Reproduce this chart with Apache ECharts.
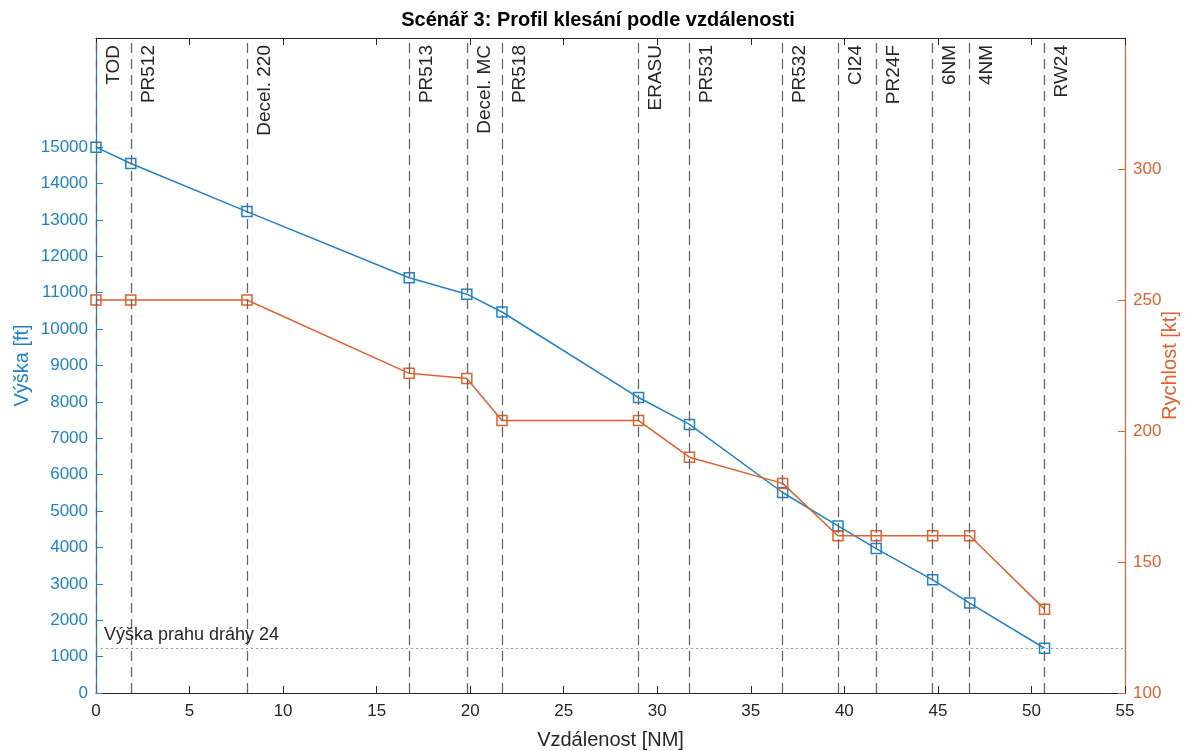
<!DOCTYPE html>
<html lang="cs">
<head>
<meta charset="utf-8">
<title>Scénář 3: Profil klesání podle vzdálenosti</title>
<script src="https://cdn.jsdelivr.net/npm/echarts@6.0.0/dist/echarts.min.js"></script>
<style>
  html, body { margin: 0; padding: 0; background: #fff; }
  #chart { width: 1196px; height: 751px; }
</style>
</head>
<body>
<div id="chart"></div>
<script>
// Data: body trati
const waypoints = ['TOD', 'PR512', 'Decel. 220', 'PR513', 'Decel. MC', 'PR518', 'ERASU',
  'PR531', 'PR532', 'CI24', 'PR24F', '6NM', '4NM', 'RW24'];
const distanceNM = [0, 1.86, 8.07, 16.74, 19.82, 21.7, 29.0, 31.72, 36.7, 39.66, 41.7, 44.72, 46.7, 50.7];
const altitudeFt = [15000, 14550, 13230, 11410, 10960, 10470, 8120, 7380, 5510, 4590, 3970, 3110, 2470, 1230];
const speedKt = [250, 250, 250, 222, 220, 204, 204, 190, 180, 160, 160, 160, 160, 132];
const thresholdFt = 1230;

// Popisky os
const altitudeTicks = [0, 1000, 2000, 3000, 4000, 5000, 6000, 7000, 8000, 9000, 10000,
  11000, 12000, 13000, 14000, 15000];
const speedTicks = [100, 150, 200, 250, 300];

// Barvy
const BLUE = '#1f82c8';
const ORANGE = '#e0602f';
const DARK = '#262626';
const FONT = '"Liberation Sans", Arial, sans-serif';

const chart = echarts.init(document.getElementById('chart'));

const zip = (xs, ys) => xs.map((x, i) => [x, ys[i]]);

// svislé čáry s názvy bodů
const waypointLines = waypoints.map((name, i) => ({
  xAxis: distanceNM[i],
  label: { formatter: name }
}));

// společné nastavení os
const xAxisBase = {
  type: 'value',
  min: 0, max: 55, interval: 5,
  axisLine: { onZero: false, lineStyle: { color: DARK, width: 1.2 } },
  axisTick: { inside: true, length: 7, lineStyle: { color: DARK } },
  splitLine: { show: false }
};

chart.setOption({
  animation: false,
  title: {
    text: 'Scénář 3: Profil klesání podle vzdálenosti',
    left: 'center',
    top: 5,
    textStyle: { fontFamily: FONT, fontSize: 20, fontWeight: 'bold', color: '#000' }
  },
  grid: { left: 96, right: 71, top: 38, bottom: 58, containLabel: false, outerBoundsMode: 'none' },
  xAxis: [
    Object.assign({}, xAxisBase, {
      name: 'Vzdálenost [NM]',
      nameLocation: 'middle',
      nameGap: 37,
      nameMoveOverlap: false,
      nameTextStyle: { fontFamily: FONT, fontSize: 20, color: DARK },
      axisLabel: { fontFamily: FONT, fontSize: 17, color: DARK, margin: 10 }
    }),
    Object.assign({}, xAxisBase, {
      position: 'top',
      axisLabel: { show: false }
    })
  ],
  yAxis: [
    {
      type: 'value',
      min: 0, max: 18000, interval: 1000,
      name: 'Výška [ft]',
      nameLocation: 'middle',
      nameRotate: 90,
      nameGap: 64,
      nameMoveOverlap: false,
      nameTextStyle: { fontFamily: FONT, fontSize: 20, color: BLUE },
      axisLine: { show: true, onZero: false, lineStyle: { color: BLUE, width: 1.2 } },
      axisTick: { inside: true, length: 7, customValues: altitudeTicks, lineStyle: { color: BLUE } },
      axisLabel: {
        fontFamily: FONT, fontSize: 17, color: BLUE, margin: 8,
        customValues: altitudeTicks,
        formatter: v => String(v)
      },
      splitLine: { show: false }
    },
    {
      type: 'value',
      position: 'right',
      min: 100, max: 350, interval: 50,
      name: 'Rychlost [kt]',
      nameLocation: 'middle',
      nameRotate: 90,
      nameGap: 35,
      nameMoveOverlap: false,
      nameTextStyle: { fontFamily: FONT, fontSize: 20, color: ORANGE },
      axisLine: { show: true, onZero: false, lineStyle: { color: ORANGE, width: 1.2 } },
      axisTick: { inside: true, length: 7, customValues: speedTicks, lineStyle: { color: ORANGE } },
      axisLabel: {
        fontFamily: FONT, fontSize: 17, color: ORANGE, margin: 8,
        customValues: speedTicks
      },
      splitLine: { show: false }
    }
  ],
  series: [
    {
      name: 'Výška',
      type: 'line',
      yAxisIndex: 0,
      data: zip(distanceNM, altitudeFt),
      symbol: 'rect',
      symbolSize: 10,
      showAllSymbol: true,
      lineStyle: { color: BLUE, width: 1.5 },
      itemStyle: { color: 'transparent', borderColor: BLUE, borderWidth: 1.5 },
      z: 3,
      markLine: {
        silent: true,
        symbol: ['none', 'none'],
        animation: false,
        data: [
          {
            yAxis: thresholdFt,
            lineStyle: { color: '#9a9a9a', type: [2, 3], width: 1 },
            label: {
              formatter: 'Výška prahu dráhy 24',
              position: 'insideStartTop',
              distance: [8, 4],
              fontFamily: FONT, fontSize: 18, color: DARK
            }
          }
        ]
      }
    },
    {
      name: 'Rychlost',
      type: 'line',
      yAxisIndex: 1,
      data: zip(distanceNM, speedKt),
      symbol: 'rect',
      symbolSize: 10,
      showAllSymbol: true,
      lineStyle: { color: ORANGE, width: 1.5 },
      itemStyle: { color: 'transparent', borderColor: ORANGE, borderWidth: 1.5 },
      z: 3,
      markLine: {
        silent: true,
        symbol: ['none', 'none'],
        animation: false,
        lineStyle: { color: '#666', type: [10, 6], width: 1.3 },
        label: {
          position: 'insideEndBottom',
          distance: [7, 8],
          fontFamily: FONT, fontSize: 19, color: DARK
        },
        data: waypointLines
      }
    }
  ]
});
</script>
</body>
</html>
